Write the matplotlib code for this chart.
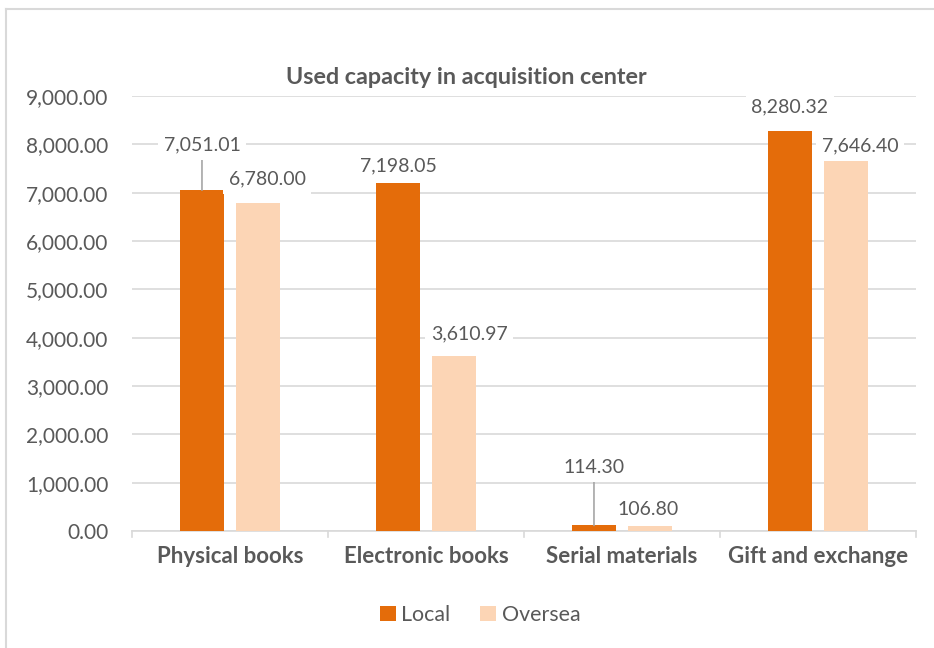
import matplotlib
matplotlib.use("Agg")
import matplotlib.pyplot as plt
from matplotlib.lines import Line2D
from matplotlib.patches import Patch

# Data
categories = ["Physical books", "Electronic books", "Serial materials", "Gift and exchange"]
local = [7051.01, 7198.05, 114.30, 8280.32]
oversea = [6780.00, 3610.97, 106.80, 7646.40]
series_names = ["Local", "Oversea"]
y_ticks = [0, 1000, 2000, 3000, 4000, 5000, 6000, 7000, 8000, 9000]

# Label placement (pixel offsets from bar top) and leader flags
local_offsets = [(0, 45), (0, 17), (0, 58), (0, 24)]
oversea_offsets = [(9, 24), (15, 23), (-2, 16), (14, 16)]
local_leaders = [True, False, True, False]
oversea_leaders = [False, False, False, False]

plt.rcParams["font.family"] = ["Lato", "DejaVu Sans"]
TEXT = "#595959"
GRID = "#d9d9d9"
C_LOCAL = "#E46C0A"
C_OVER = "#FCD5B5"

W, H = 934, 648
fig = plt.figure(figsize=(W / 100, H / 100), dpi=100)
ax = fig.add_axes([132 / W, 1 - 531 / H, (916 - 132) / W, (531 - 96) / H])

x = list(range(len(categories)))
bw = 0.2245
off = 0.143
bl = ax.bar([i - off for i in x], local, width=bw, color=C_LOCAL, zorder=3)
bo = ax.bar([i + off for i in x], oversea, width=bw, color=C_OVER, zorder=3)

ax.set_xlim(-0.5, len(categories) - 0.5)
ax.set_ylim(0, 9000)
ax.set_yticks(y_ticks)
ax.set_yticklabels([f"{v:,.2f}" for v in y_ticks], fontsize=15, color=TEXT)
ax.yaxis.grid(True, color=GRID, linewidth=1.2, zorder=0)
ax.tick_params(axis="y", length=0, pad=17)

ax.set_xticks(x)
ax.set_xticklabels(categories, fontsize=16, fontweight="bold", color=TEXT)
ax.tick_params(axis="x", length=0, pad=11)
# boundary ticks between categories
for b in [i - 0.5 for i in range(len(categories) + 1)]:
    ax.plot([b, b], [0, -0.014], transform=ax.get_xaxis_transform(),
            color=GRID, linewidth=1.2, clip_on=False, zorder=4)

for s in ["top", "right", "left"]:
    ax.spines[s].set_visible(False)
ax.spines["bottom"].set_color(GRID)
ax.spines["bottom"].set_linewidth(1.2)
ax.set_axisbelow(True)


def label(xc, val, dxy, leader):
    ax.annotate(f"{val:,.2f}", xy=(xc, val), xytext=(dxy[0], dxy[1]),
                textcoords="offset pixels", ha="center", va="center",
                fontsize=14, color=TEXT, zorder=5,
                bbox=dict(boxstyle="square,pad=0.3", fc="white", ec="none"),
                arrowprops=dict(arrowstyle="-", color="#a6a6a6", lw=1.2,
                                shrinkA=0, shrinkB=0) if leader else None)


for i in x:
    label(i - off, local[i], local_offsets[i], local_leaders[i])
    label(i + off, oversea[i], oversea_offsets[i], oversea_leaders[i])

fig.text(466 / W, 1 - 78 / H, "Used capacity in acquisition center",
         ha="center", va="center", fontsize=16.8, fontweight="bold", color=TEXT)

handles = [Patch(facecolor=C_LOCAL), Patch(facecolor=C_OVER)]
fig.legend(handles, series_names, loc="center", bbox_to_anchor=(480 / W, 1 - 615 / H),
           ncol=2, frameon=False, fontsize=15.4, labelcolor=TEXT,
           handlelength=0.75, handleheight=0.75, handletextpad=0.25, columnspacing=1.4)

# chart area border
fig.add_artist(Line2D([6 / W, 1], [1 - 9 / H, 1 - 9 / H], transform=fig.transFigure,
                      color=GRID, linewidth=1.5))
fig.add_artist(Line2D([6 / W, 6 / W], [0, 1 - 9 / H], transform=fig.transFigure,
                      color=GRID, linewidth=1.5))

fig.savefig("out.png", dpi=100, facecolor="white")
